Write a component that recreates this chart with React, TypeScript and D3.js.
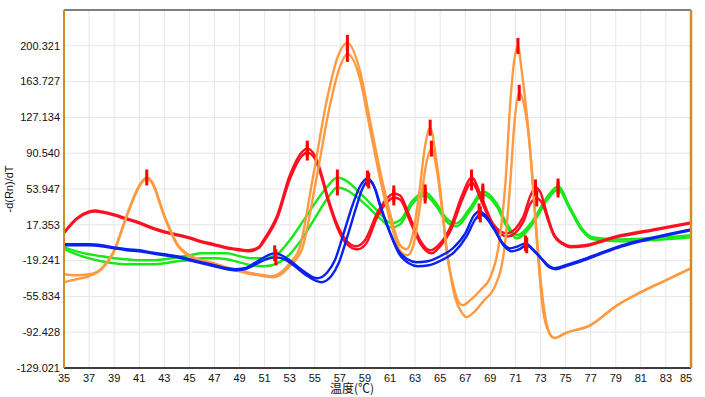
import React from "react";
import * as d3 from "d3";

const W = 705;
const H = 397;
const margin = { top: 10, right: 14, bottom: 29, left: 64 };

// axis ticks
const xTicks = [35, 37, 39, 41, 43, 45, 47, 49, 51, 53, 55, 57, 59, 61, 63, 65, 67, 69, 71, 73, 75, 77, 79, 81, 83, 85];
const yTicks = [-129.021, -92.428, -55.834, -19.241, 17.353, 53.947, 90.54, 127.134, 163.727, 200.321];
const yMax = 236.915;

// melt curves: [temperature, -d(Rn)/dT]
const red1: [number, number][] = [
  [35, 9.6], [36, 23.9], [37, 31.0], [37.5, 32.0], [38, 31.0], [39, 28.0], [40, 23.9], [41, 19.8], [42, 14.7],
  [43, 10.6], [44, 7.6], [45, 4.5], [46, 0.4], [47, -2.6], [48, -5.7], [49, -7.7], [49.7, -8.7], [50.5, -5.7],
  [51, 3.5], [52, 27.0], [53, 67.7], [54, 92.2], [54.4, 95.2], [55, 88.1], [55.5, 70.8], [56, 47.3], [57, 11.7],
  [57.5, 1.5], [58.3, -4.6], [59, 1.5], [60, 30.0], [61, 47.3], [61.3, 49.4], [61.8, 47.3], [62.6, 24.9],
  [63.4, 1.5], [64.2, -8.7], [65, -1.6], [65.8, 14.7], [66.8, 49.4], [67.5, 65.7], [68.4, 42.2], [69.2, 18.8],
  [70.3, 8.6], [71.6, 24.9], [72.2, 47.3], [72.6, 55.5], [73, 50.4], [73.5, 29.0], [74, 9.6], [74.8, -1.6],
  [75.4, -4.6], [76.5, -3.6], [79, 5.5], [82, 12.7], [85, 19.8],
];
const red2: [number, number][] = [
  [35, 8.6], [36, 22.9], [37, 30.0], [37.5, 31.0], [38, 30.0], [39, 27.0], [40, 22.9], [41, 18.8], [42, 13.7],
  [43, 9.6], [44, 6.6], [45, 3.5], [46, -0.6], [47, -3.6], [48, -6.7], [49, -8.7], [49.7, -9.8], [50.5, -6.7],
  [51, 1.5], [52, 23.9], [53, 63.6], [54, 88.1], [54.4, 91.2], [55, 85.1], [55.5, 67.7], [56, 44.3], [57, 8.6],
  [57.5, -1.6], [58.4, -7.7], [59.1, -1.6], [60, 25.9], [61, 43.3], [61.3, 45.3], [61.8, 43.3], [62.6, 20.8],
  [63.4, -1.6], [64.3, -11.8], [65, -4.6], [65.8, 10.6], [66.8, 44.3], [67.5, 60.6], [68.4, 38.2], [69.2, 15.7],
  [70.4, 5.5], [71.6, 19.8], [72.2, 39.2], [72.7, 44.3], [73.1, 40.2], [73.6, 21.9], [74.1, 5.5], [74.8, -2.6],
  [75.4, -5.7], [76.5, -4.6], [79, 4.5], [82, 11.7], [85, 18.8],
];
const orange1: [number, number][] = [
  [35, -33.2], [36, -34.2], [37, -33.2], [38, -27.1], [39, -8.7], [40, 27.0], [41, 57.5], [41.6, 65.7], [42, 61.6],
  [43, 27.0], [44, -1.6], [45, -13.8], [46, -18.9], [47, -22.0], [48, -26.1], [49, -29.1], [50, -32.2], [51, -34.2],
  [51.6, -35.2], [52.2, -32.2], [53, -22.0], [53.8, -5.7], [54.85, 65.7], [56, 147.2], [56.8, 188.0], [57.6, 203.3],
  [58.6, 174.7], [59.4, 123.8], [60.2, 72.8], [61, 29.0], [61.8, -3.6], [62.3, -7.7], [62.8, 6.6], [63.3, 47.3],
  [63.8, 98.3], [64.2, 116.6], [64.7, 83.0], [65.1, 42.2], [65.5, -8.7], [66, -42.4], [66.4, -59.7], [66.8, -64.8],
  [67.4, -59.7], [68.2, -49.5], [69, -36.3], [69.8, 8.6], [70.2, 59.6], [70.6, 144.2], [70.9, 184.9], [71.2, 200.2],
  [71.5, 174.7], [71.9, 130.9], [72.3, 72.8], [72.7, 1.5], [73.2, -69.9], [73.7, -93.3], [74.1, -98.4], [75, -93.3],
  [77, -85.2], [79, -65.8], [81, -51.5], [83, -39.3], [85, -27.1],
];
const orange2: [number, number][] = [
  [35, -41.3], [36, -38.3], [37, -35.2], [38, -28.1], [39, -9.8], [40, 25.9], [41, 56.5], [41.6, 64.7], [42, 60.6],
  [43, 25.9], [44, -2.6], [45, -14.8], [46, -19.9], [47, -23.0], [48, -27.1], [49, -30.2], [50, -33.2], [51, -35.2],
  [51.6, -36.3], [52.2, -34.2], [53, -25.0], [54, -6.7], [55.1, 62.6], [56.2, 139.1], [57, 178.8], [57.6, 192.1],
  [58.6, 166.6], [59.4, 115.6], [60.2, 64.7], [61, 21.9], [61.9, -10.8], [62.4, -13.8], [62.9, -1.6], [63.4, 37.1],
  [63.9, 80.9], [64.3, 95.2], [64.8, 67.7], [65.2, 27.0], [65.7, -24.0], [66.2, -57.6], [66.7, -71.9], [67.1, -77.0],
  [67.7, -71.9], [68.5, -59.7], [69.3, -47.4], [70.1, -8.7], [70.6, 62.6], [70.9, 118.7], [71.3, 152.3], [71.7, 139.1],
  [72.1, 103.4], [72.5, 42.2], [72.9, -24.0], [73.4, -78.0], [73.8, -95.4], [74.1, -98.4], [75, -93.3], [77, -85.2],
  [79, -65.8], [81, -51.5], [83, -39.3], [85, -27.1],
];
const green1: [number, number][] = [
  [35, -5.7], [36, -9.8], [37, -12.8], [38, -14.8], [39, -16.9], [40, -17.9], [41, -18.9], [42, -18.9], [43, -17.9],
  [44, -15.9], [45, -13.8], [46, -11.8], [47, -11.8], [48, -11.8], [49, -14.8], [50, -16.9], [51, -16.9], [52, -12.8],
  [53, 1.5], [54, 19.8], [55, 39.2], [56, 56.5], [56.8, 65.7], [57.6, 61.6], [58.4, 52.4], [59.2, 42.2], [60.2, 29.0],
  [61.1, 18.8], [61.8, 21.9], [62.8, 42.2], [63.8, 50.4], [64.7, 39.2], [65.5, 23.9], [66.3, 18.8], [67.4, 35.1],
  [68.4, 51.4], [69.5, 39.2], [70.3, 18.8], [71.1, 6.6], [72.4, 21.9], [73.5, 45.3], [74.4, 56.5], [75.35, 35.1],
  [76.3, 13.7], [77.2, 4.5], [79.3, 2.5], [85, 6.6],
];
const green2: [number, number][] = [
  [35, -7.7], [36, -12.8], [37, -16.9], [38, -19.9], [39, -22.0], [40, -23.0], [41, -23.0], [42, -23.0], [43, -22.0],
  [44, -19.9], [45, -18.9], [46, -16.9], [47, -16.9], [48, -17.9], [49, -21.0], [50, -24.0], [51, -25.0], [52, -22.0],
  [53, -12.8], [54, 3.5], [55, 23.9], [56, 44.3], [56.8, 55.5], [57.6, 52.4], [58.4, 45.3], [59.2, 36.1], [60.2, 23.9],
  [61.1, 14.7], [61.8, 17.8], [62.8, 39.2], [63.8, 47.3], [64.7, 36.1], [65.5, 20.8], [66.3, 15.7], [67.4, 32.0],
  [68.4, 48.3], [69.5, 36.1], [70.3, 15.7], [71.1, 3.5], [72.4, 18.8], [73.5, 42.2], [74.4, 53.4], [75.35, 33.1],
  [76.3, 11.7], [77.2, 2.5], [79.3, 0.4], [85, 4.5],
];
const blue1: [number, number][] = [
  [35, -2.6], [36, -2.6], [37, -2.6], [38, -3.6], [39, -5.7], [40, -7.7], [41, -8.7], [42, -10.8], [43, -12.8],
  [44, -14.8], [45, -17.9], [46, -21.0], [47, -24.0], [48, -27.1], [48.6, -28.1], [49.4, -27.1], [50.3, -21.0],
  [51.1, -14.8], [51.8, -11.8], [52.5, -14.8], [53, -18.9], [54, -29.1], [55.2, -37.3], [56, -31.1], [56.6, -18.9],
  [57.3, 8.6], [58, 37.1], [58.6, 56.5], [59.2, 64.7], [59.7, 57.5], [60.2, 37.1], [61, 9.6], [61.6, -7.7],
  [62.4, -17.9], [63.1, -21.0], [64, -19.9], [65, -14.8], [66, -6.7], [67, 8.6], [67.7, 27.0], [68.1, 31.0],
  [68.6, 27.0], [69.2, 15.7], [70, -1.6], [70.6, -6.7], [71.2, -4.6], [71.8, -1.6], [72.4, -7.7], [73, -15.9],
  [73.6, -24.0], [74.1, -27.1], [75, -24.0], [76, -19.9], [77.5, -12.8], [79.5, -3.6], [82, 4.5], [85, 12.7],
];
const blue2: [number, number][] = [
  [35, -3.6], [36, -3.6], [37, -3.6], [38, -4.6], [39, -6.7], [40, -8.7], [41, -9.8], [42, -11.8], [43, -13.8],
  [44, -15.9], [45, -18.9], [46, -22.0], [47, -25.0], [48, -28.1], [48.6, -29.1], [49.4, -28.1], [50.3, -23.0],
  [51.1, -17.9], [51.9, -15.9], [52.6, -17.9], [53.2, -23.0], [54.2, -33.2], [55.5, -41.3], [56.3, -35.2],
  [56.9, -22.0], [57.6, 5.5], [58.3, 35.1], [58.8, 54.5], [59.3, 62.6], [59.8, 54.5], [60.3, 34.1], [61.1, 5.5],
  [61.7, -11.8], [62.5, -22.0], [63.2, -25.0], [64.1, -24.0], [65.1, -18.9], [66.1, -10.8], [67.1, 5.5],
  [67.8, 22.9], [68.2, 28.0], [68.7, 23.9], [69.3, 12.7], [70.1, -4.6], [70.7, -9.8], [71.3, -7.7], [71.9, -3.6],
  [72.5, -9.8], [73.1, -17.9], [73.7, -26.1], [74.2, -28.1], [75, -25.0], [76, -21.0], [77.5, -13.8], [79.5, -4.6],
  [82, 3.5], [85, 11.7],
];

// Tm peak markers
const peaks: [number, number][] = [
  [41.6, 65.7], [57.6, 203.3], [57.6, 192.1], [64.2, 116.6], [64.3, 95.2], [71.2, 200.2], [71.3, 152.3],
  [54.4, 95.2], [54.4, 91.2], [61.3, 49.4], [61.3, 45.3], [67.5, 65.7], [67.5, 60.6], [72.6, 55.5], [72.7, 44.3],
  [56.8, 65.7], [56.8, 55.5], [63.8, 50.4], [63.8, 47.3], [68.4, 51.4], [68.4, 48.3], [74.4, 56.5], [74.4, 53.4],
  [51.8, -11.8], [51.9, -15.9], [59.2, 64.7], [59.3, 62.6], [68.1, 31.0], [68.2, 28.0], [71.8, -1.6], [71.9, -3.6],
];

const series = [
  { data: green1, color: "#18e818" },
  { data: green2, color: "#18e818" },
  { data: red1, color: "#ff1020" },
  { data: red2, color: "#ff1020" },
  { data: orange1, color: "#ff9a42" },
  { data: orange2, color: "#ff9a42" },
  { data: blue1, color: "#0a22f0" },
  { data: blue2, color: "#0a22f0" },
];

const FONT = "'Liberation Sans', Arial, sans-serif";

export default function App() {
  const x = d3.scaleLinear().domain([35, 85]).range([margin.left, W - margin.right]);
  const y = d3.scaleLinear().domain([yTicks[0], yMax]).range([H - margin.bottom, margin.top]);

  const line = d3
    .line<[number, number]>()
    .x((d) => x(d[0]))
    .y((d) => y(d[1]))
    .curve(d3.curveMonotoneX);

  const left = margin.left;
  const right = W - margin.right;
  const top = margin.top;
  const bottom = H - margin.bottom;

  return (
    <svg width={W} height={H} style={{ position: "absolute", left: 0, top: 0, background: "#fff" }}>
      {/* grid */}
      <g stroke="#e6e6e6" strokeWidth={1}>
        {xTicks.map((t) => (
          <line key={"gx" + t} x1={x(t)} x2={x(t)} y1={top} y2={bottom} />
        ))}
        {yTicks.map((t) => (
          <line key={"gy" + t} x1={left} x2={right} y1={y(t)} y2={y(t)} />
        ))}
      </g>

      <defs>
        <clipPath id="plot">
          <rect x={left} y={top} width={right - left} height={bottom - top} />
        </clipPath>
      </defs>

      {/* curves */}
      <g clipPath="url(#plot)" fill="none" strokeWidth={2.4} strokeLinejoin="round">
        {series.map((s, i) => (
          <path key={i} d={line(s.data) || ""} stroke={s.color} />
        ))}
      </g>

      {/* peak markers */}
      <g stroke="#ff0000" strokeWidth={3}>
        {peaks.map((p, i) => (
          <line key={i} x1={x(p[0])} x2={x(p[0])} y1={y(p[1]) - 8} y2={y(p[1]) + 8} />
        ))}
      </g>

      {/* frame */}
      <line x1={left} x2={right} y1={top} y2={top} stroke="#000" strokeWidth={1} />
      <line x1={left} x2={right} y1={bottom} y2={bottom} stroke="#000" strokeWidth={1.5} />
      <line x1={left} x2={left} y1={top} y2={bottom} stroke="#d18d22" strokeWidth={2} />
      <line x1={right} x2={right} y1={top} y2={bottom} stroke="#d18d22" strokeWidth={2.5} />

      {/* y tick labels */}
      <g fontFamily={FONT} fontSize={11} fill="#111" textAnchor="end">
        {yTicks.map((t) => (
          <text key={"ty" + t} x={left - 4} y={y(t)} dy="0.35em">
            {t.toFixed(3)}
          </text>
        ))}
      </g>

      {/* x tick labels */}
      <g fontFamily={FONT} fontSize={11} fill="#111" textAnchor="middle">
        {xTicks.map((t, i) => (
          <text
            key={"tx" + t}
            x={i === xTicks.length - 1 ? x(t) - 5 : x(t)}
            y={bottom + 14}
          >
            {t}
          </text>
        ))}
      </g>

      {/* axis titles */}
      <text
        x={352}
        y={H - 4}
        textAnchor="middle"
        fontSize={12}
        fontFamily="'Noto Sans CJK SC', sans-serif"
        fill="#111"
      >
        温度(℃)
      </text>
      <text
        transform={`translate(13, ${(top + bottom) / 2}) rotate(-90)`}
        textAnchor="middle"
        fontSize={11}
        fontFamily={FONT}
        fill="#111"
      >
        -d(Rn)/dT
      </text>
    </svg>
  );
}
